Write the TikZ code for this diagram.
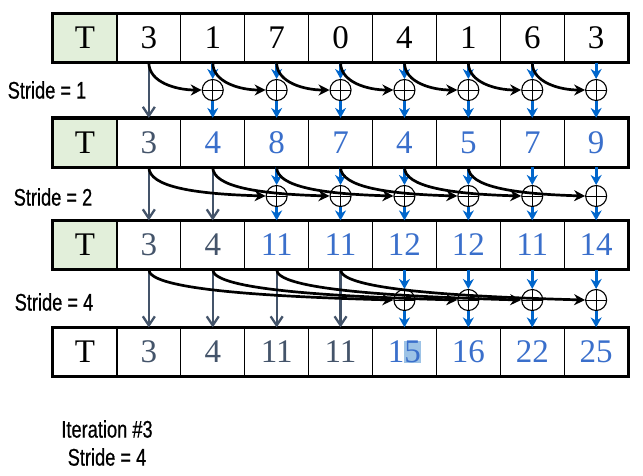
\documentclass[tikz,border=0pt]{standalone}
\usepackage{fontspec}
\setmainfont{Liberation Serif}
\newfontfamily\stridefont[FakeStretch=0.76,FakeBold=0.6]{Liberation Sans}
\usepackage{xcolor}
\usetikzlibrary{arrows.meta,calc}

\definecolor{tgreen}{HTML}{E2EFDA}
\definecolor{passgray}{HTML}{44546A}
\definecolor{sumblue}{HTML}{0066CC}
\definecolor{numblue}{HTML}{3A6FCB}
\definecolor{selblue}{HTML}{9DC3E6}

\newcommand{\marked}[1]{{\setlength{\fboxsep}{0pt}\colorbox{selblue}{#1}}}

\tikzset{
  cell/.style={draw, line width=1.2pt, minimum width=63.9pt, minimum height=48pt,
    inner sep=0pt, font=\fontsize{33}{36}\selectfont},
  tcell/.style={cell, fill=tgreen},
  frame/.style={draw, line width=3.2pt},
  plus/.style={circle, draw, line width=1.1pt, minimum size=21pt, inner sep=0pt,
    path picture={\draw[line width=1pt]
      (path picture bounding box.north) -- (path picture bounding box.south)
      (path picture bounding box.west) -- (path picture bounding box.east);}},
  sum/.style={-{Stealth[length=10pt,width=11pt]}, line width=2.8pt, sumblue},
  pass/.style={-{Straight Barb[length=9pt,width=12pt]}, line width=2.3pt, passgray},
  carry/.style={-{Stealth[length=11pt,width=11pt]}, line width=2.7pt, black},
  stridelabel/.style={font=\stridefont\fontsize{24}{28}\selectfont}
}

\begin{document}
\begin{tikzpicture}[x=1pt,y=-1pt]
	\useasboundingbox (0,0) rectangle (643,475);

	% the four arrays
	\node[tcell] (r0c0) at (85,38) {T};
	\foreach \v [count=\k] in {3,1,7,0,4,1,6,3}
		\node[cell] (r0c\k) at ({53+63.9*(\k+0.5)},38) {\v};

	\node[tcell] (r1c0) at (85,142.5) {T};
	\foreach \v/\c [count=\k] in {3/passgray,4/numblue,8/numblue,7/numblue,4/numblue,5/numblue,7/numblue,9/numblue}
		\node[cell,text=\c] (r1c\k) at ({53+63.9*(\k+0.5)},142.5) {\v};

	\node[tcell] (r2c0) at (85,245) {T};
	\foreach \v/\c [count=\k] in {3/passgray,4/passgray,11/numblue,11/numblue,12/numblue,12/numblue,11/numblue,14/numblue}
		\node[cell,text=\c] (r2c\k) at ({53+63.9*(\k+0.5)},245) {\v};

	\node[cell] (r3c0) at (85,352) {T};
	\foreach \v/\c [count=\k] in {3/passgray,4/passgray,11/passgray,11/passgray,1\marked{5}/numblue,16/numblue,22/numblue,25/numblue}
		\node[cell,text=\c] (r3c\k) at ({53+63.9*(\k+0.5)},352) {\v};

	\foreach \r in {0,...,3}
		\draw[frame] (r\r c0.north west) rectangle (r\r c8.south east);

	% stride 1
	\node[stridelabel] (s1) at (47,90) {Stride = 1};
	\foreach \k in {2,...,8}
		\node[plus] (a\k) at ({53+63.9*(\k+0.5)},90) {};
	\draw[pass] (r0c1.south) -- (r1c1.north);
	\foreach \k in {2,...,8} {
		\draw[sum] (r0c\k.south) -- (a\k.north);
		\draw[sum] (a\k.south) -- (r1c\k.north);
	}
	\foreach \k [evaluate=\k as \j using int(\k+1)] in {1,...,7}
		\draw[carry] (r0c\k.south) .. controls +(0,20) and +(-25,0) .. (a\j.west);

	% stride 2
	\node[stridelabel] (s2) at (53,197) {Stride = 2};
	\foreach \k in {3,...,8}
		\node[plus] (b\k) at ({53+63.9*(\k+0.5)},196) {};
	\foreach \k in {1,2}
		\draw[pass] (r1c\k.south) -- (r2c\k.north);
	\foreach \k in {3,...,8} {
		\draw[sum] (r1c\k.south) -- (b\k.north);
		\draw[sum] (b\k.south) -- (r2c\k.north);
	}
	\foreach \k [evaluate=\k as \j using int(\k+2)] in {1,...,6}
		\draw[carry] (r1c\k.south) .. controls +(0,20) and +(-70,-2) .. (b\j.west);

	% stride 4
	\node[stridelabel] (s4) at (54,302) {Stride = 4};
	\foreach \k in {5,...,8}
		\node[plus] (c\k) at ({53+63.9*(\k+0.5)},300) {};
	\foreach \k in {1,...,4}
		\draw[pass] (r2c\k.south) -- (r3c\k.north);
	\foreach \k in {5,...,8} {
		\draw[sum] (r2c\k.south) -- (c\k.north);
		\draw[sum] (c\k.south) -- (r3c\k.north);
	}
	\foreach \k [evaluate=\k as \j using int(\k+4)] in {1,...,4}
		\draw[carry] (r2c\k.south) .. controls +(0,18) and +(-150,-4) .. (c\j.west);

	\node[stridelabel, align=center] (iter) at (107,443) {Iteration \#3\\Stride = 4};
\end{tikzpicture}
\end{document}
